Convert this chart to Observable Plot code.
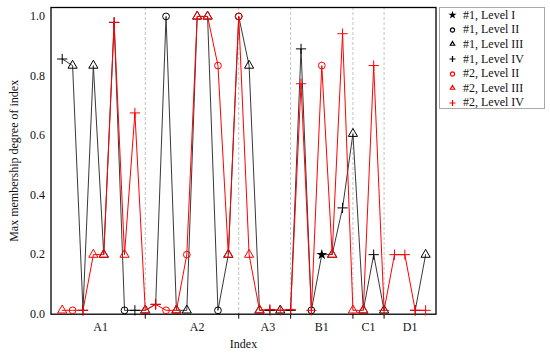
<!DOCTYPE html>
<html>
<head>
<meta charset="utf-8">
<script src="https://cdn.jsdelivr.net/npm/d3@7"></script>
<script src="https://cdn.jsdelivr.net/npm/@observablehq/plot@0.6"></script>
<style>
  body { margin: 0; background: white; }
  #wrap { position: relative; width: 550px; height: 356px; font-family: "Liberation Serif", "Times New Roman", serif; }
  #legend { position: absolute; left: 439px; top: 7px; width: 106px; height: 102px; border: 1px solid #a8a8a8; background: white; box-sizing: border-box; }
  .row { height: 14.6px; display: flex; align-items: center; font-size: 12px; color: #111; }
  .row svg { flex: none; }
</style>
</head>
<body>
<div id="wrap"></div>
<script>
// slot index along the x axis
const index = [1,2,3,4,5,6,7,8,9,10,11,12,13,14,15,16,17,18,19,20,21,22,23,24,25,26,27,28,29,30,31,32,33,34,35,36];

// Series #1 (black)
const s1Values = [0.857,0.835,0.013,0.835,0.2,0.98,0.013,0.013,0.013,0.033,1.0,0.013,0.013,1.0,1.0,0.013,0.2,1.0,0.835,0.013,0.013,0.013,0.013,0.891,0.013,0.2,0.2,0.357,0.606,0.013,0.2,0.013,null,null,0.013,0.2];
const s1Levels = ["IV","III","IV","III","III","IV","II","IV","III","IV","II","III","III","III","III","II","III","II","III","III","IV","III","IV","IV","II","I","III","IV","III","III","IV","III",null,null,"IV","III"];

// Series #2 (red)
const s2Values = [0.013,0.013,0.013,0.2,0.2,0.98,0.2,0.676,0.013,0.033,0.013,0.013,0.2,1.0,1.0,0.835,0.2,1.0,0.2,0.013,0.016,0.013,0.016,0.774,0.013,0.835,0.2,0.942,0.013,0.013,0.835,0.013,0.2,0.2,0.013,0.013];
const s2Levels = ["III","II","IV","III","III","IV","III","IV","III","IV","II","III","II","III","III","II","III","II","III","III","IV","IV","IV","IV","IV","II","III","IV","III","III","IV","IV","IV","IV","IV","IV"];

// group boundaries and category labels
const boundaries = [9, 18, 23, 29, 32];
const groupNames = ["A1","A2","A3","B1","C1","D1"];
const groupPos = [4.7, 14.0, 20.8, 26.0, 30.5, 34.5];
const yTicks = [0, 0.2, 0.4, 0.6, 0.8, 1.0];

const legendItems = [
  {label: "#1, Level I", level: "I", color: "black"},
  {label: "#1, Level II", level: "II", color: "black"},
  {label: "#1, Level III", level: "III", color: "black"},
  {label: "#1, Level IV", level: "IV", color: "black"},
  {label: "#2, Level II", level: "II", color: "red"},
  {label: "#2, Level III", level: "III", color: "red"},
  {label: "#2, Level IV", level: "IV", color: "red"}
];

const levelSymbol = {I: "star", II: "circle", III: "triangle", IV: "plus"};

const rows1 = index.map((k, i) => ({k, v: s1Values[i], level: s1Levels[i]}));
const rows2 = index.map((k, i) => ({k, v: s2Values[i], level: s2Levels[i]}));
const pts1 = rows1.filter(d => d.v != null);
const groupMap = new Map(groupPos.map((p, i) => [p, groupNames[i]]));

const R = 3.4;
const plot = Plot.plot({
  width: 550, height: 356,
  marginLeft: 50.5, marginRight: 114.5, marginTop: 7, marginBottom: 42.3,
  style: {fontFamily: "Liberation Serif, Times New Roman, serif", fontSize: "12px", color: "#111", background: "white", overflow: "visible"},
  x: {domain: [-0.08, 37.0]},
  y: {domain: [0, 1.03]},
  marks: [
    Plot.ruleX(boundaries, {stroke: "#c4c4c4", strokeDasharray: "3,2", strokeWidth: 1}),
    Plot.axisX(boundaries, {tickSize: 5, tickFormat: () => "", label: null, stroke: "black"}),
    Plot.axisX(groupPos, {tickSize: 0, tickPadding: 8, tickFormat: d => groupMap.get(d), label: null, fontSize: 12}),
    Plot.axisY(yTicks, {tickSize: 0, tickPadding: 6, tickFormat: d3.format(".1f"), label: null, fontSize: 12}),
    Plot.frame({stroke: "black", strokeWidth: 1.3}),
    Plot.line(rows1, {x: "k", y: "v", stroke: "#383838", strokeWidth: 1}),
    Plot.dot(pts1.filter(d => d.level !== "I"), {x: "k", y: "v", r: R, symbol: d => levelSymbol[d.level], stroke: "black", strokeWidth: 1, fill: "none"}),
    Plot.dot(pts1.filter(d => d.level === "I"), {x: "k", y: "v", r: R, symbol: "star", fill: "black", stroke: "none"}),
    Plot.line(rows2, {x: "k", y: "v", stroke: "#ff0000", strokeWidth: 1}),
    Plot.dot(rows2, {x: "k", y: "v", r: R, symbol: d => levelSymbol[d.level], stroke: "#ff0000", strokeWidth: 1, fill: "none"}),
    Plot.text(["Index"], {text: d => d, frameAnchor: "bottom", dy: 34, fontSize: 12, textAnchor: "middle"}),
    Plot.text(["Max membership degree of index"], {text: d => d, frameAnchor: "left", dx: -37, rotate: -90, fontSize: 12, textAnchor: "middle"})
  ]
});

const wrap = document.getElementById("wrap");
wrap.appendChild(plot);

// legend
const legend = document.createElement("div");
legend.id = "legend";
for (const item of legendItems) {
  const row = document.createElement("div");
  row.className = "row";
  const svg = d3.create("svg").attr("width", 23).attr("height", 14);
  const symType = {I: d3.symbolStar, II: d3.symbolCircle, III: d3.symbolTriangle2, IV: d3.symbolPlus}[item.level];
  const size = item.level === "I" ? Math.PI * 2.6 * 2.6 : Math.PI * 2.1 * 2.1;
  svg.append("path")
    .attr("transform", "translate(12.5,7)")
    .attr("d", d3.symbol(symType, size)())
    .attr("fill", item.level === "I" ? item.color : "none")
    .attr("stroke", item.level === "I" ? "none" : item.color)
    .attr("stroke-width", 1.2);
  row.appendChild(svg.node());
  const span = document.createElement("span");
  span.textContent = item.label;
  row.appendChild(span);
  legend.appendChild(row);
}
wrap.appendChild(legend);
</script>
</body>
</html>
